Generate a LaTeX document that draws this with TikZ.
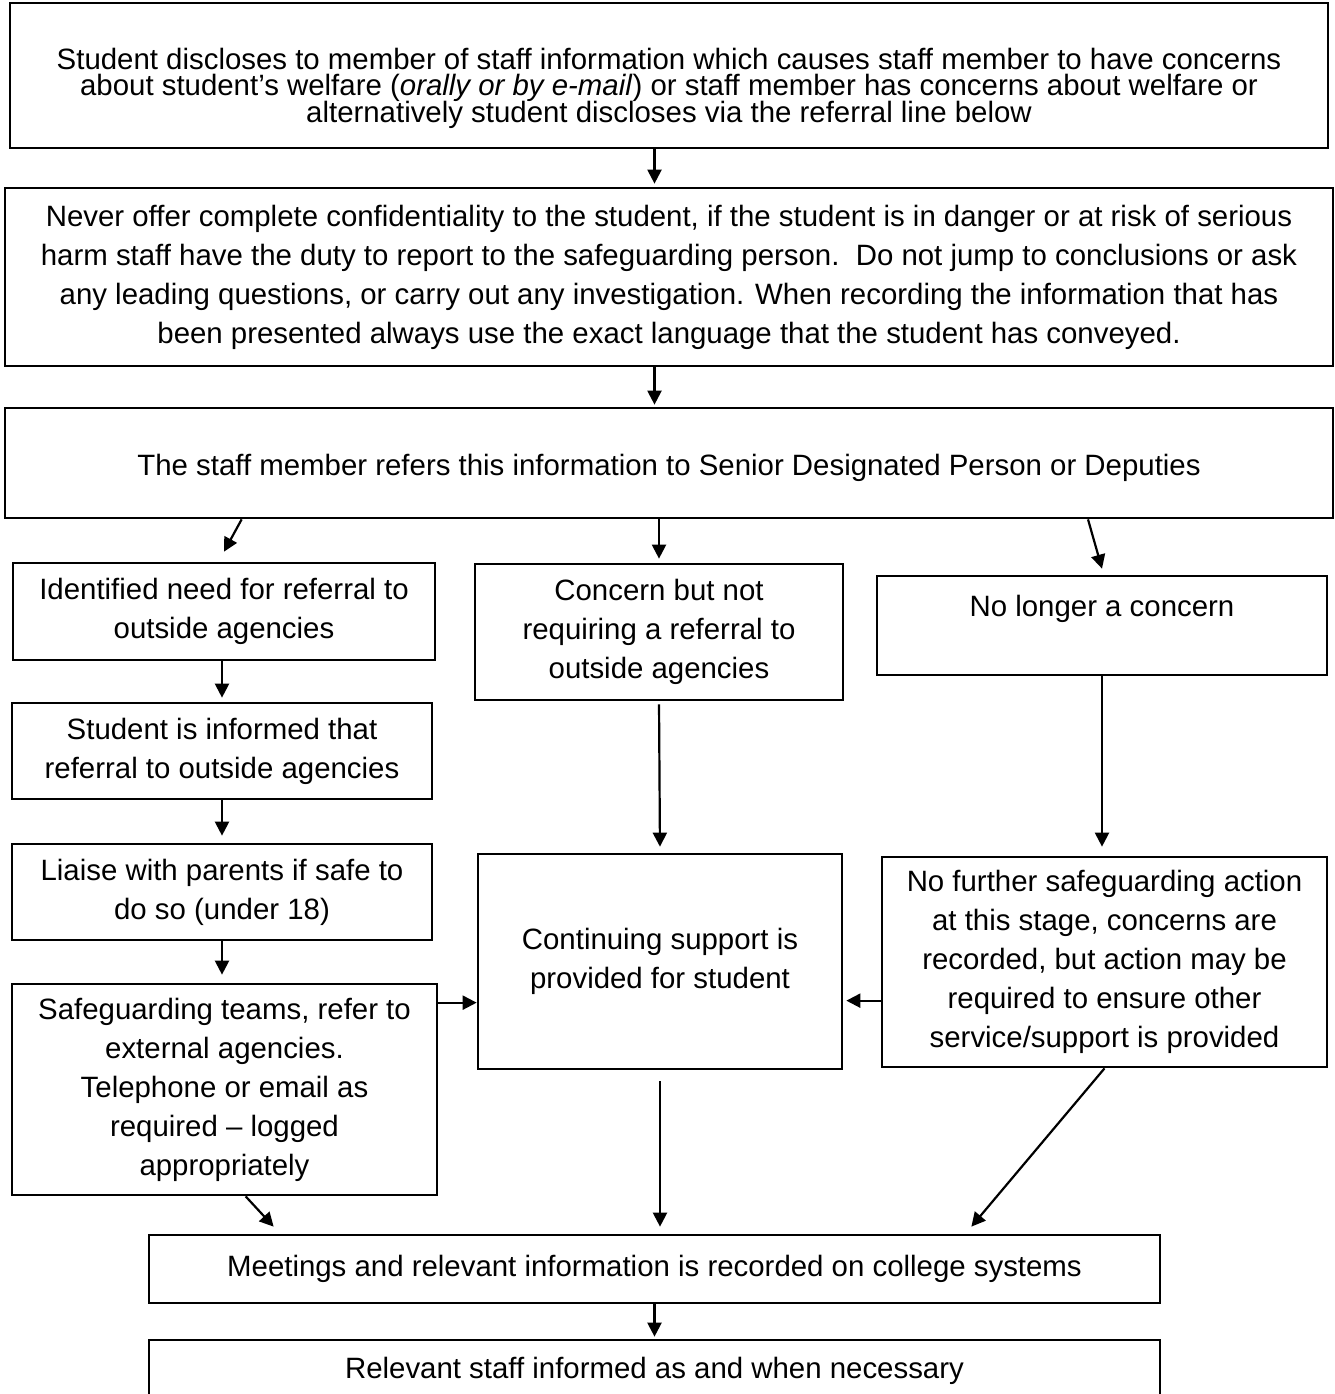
\documentclass[tikz,border=0pt]{standalone}
\usepackage{fontspec}
\setmainfont{Liberation Sans}
\usetikzlibrary{arrows.meta}
\usetikzlibrary{positioning}
\lineskiplimit=-100pt

\begin{document}
\begin{tikzpicture}[x=1pt,y=-1pt]
	\tikzset{box/.style = {shape=rectangle, draw, line width=2.7pt,
			align=center, inner sep=0pt,
			font=\fontsize{29.4}{39}\selectfont}}
	\tikzset{edge/.style = {-{Triangle[length=14pt,width=14pt]}, line width=2.2pt}}

	\clip (0,0) rectangle (1335,1394);

	% boxes
	\node[box, minimum width=1318, minimum height=145,
		font=\fontsize{29.4}{26.5}\selectfont] (top) at (669,75.5)
		{\rule{0pt}{20pt}\\
		Student discloses to member of staff information which causes staff member to have concerns\\
		about student’s welfare (\textit{orally or by e-mail}) or staff member has concerns about welfare or\\
		alternatively student discloses via the referral line below};
	\node[box, minimum width=1328, minimum height=178] (conf) at (669,277)
		{Never offer complete confidentiality to the student, if the student is in danger or at risk of serious\\
		harm staff have the duty to report to the safeguarding person.\ \ Do not jump to conclusions or ask\\
		any leading questions, or carry out any investigation. When recording the information that has\\
		been presented always use the exact language that the student has conveyed.};
	\node[box, minimum width=1328, minimum height=110,
		text height=31pt, text depth=6pt] (refer) at (669,463)
		{The staff member refers this information to Senior Designated Person or Deputies};

	\node[box, minimum width=422, minimum height=97] (ident) at (224,611.5)
		{Identified need for referral to\\outside agencies};
	\node[box, minimum width=368, minimum height=136] (concern) at (659,632)
		{Concern but not\\requiring a referral to\\outside agencies};
	\node[box, minimum width=450, minimum height=99] (nolonger) at (1102,625.5)
		{No longer a concern\\\mbox{}};

	\node[box, minimum width=420, minimum height=96] (inform) at (222,751)
		{Student is informed that\\referral to outside agencies};
	\node[box, minimum width=420, minimum height=96] (liaise) at (222,892)
		{Liaise with parents if safe to\\do so (under 18)};
	\node[box, minimum width=425, minimum height=211] (teams) at (224.5,1089.5)
		{Safeguarding teams, refer to\\external agencies.\\Telephone or email as\\required – logged\\appropriately};
	\node[box, minimum width=364, minimum height=215] (support) at (660,961.5)
		{Continuing support is\\provided for student};
	\node[box, minimum width=445, minimum height=210] (nofurther) at (1104.5,962)
		{No further safeguarding action\\at this stage, concerns are\\recorded, but action may be\\required to ensure other\\service/support is provided};

	\node[box, minimum width=1011, minimum height=68] (meet) at (654.5,1269)
		{Meetings and relevant information is recorded on college systems};
	\node[box, minimum width=1011, minimum height=62] (staff) at (654.5,1371)
		{Relevant staff informed as and when necessary};

	% edges
	\draw[edge, shorten >=3pt] (top.south -| meet.north) to (conf.north -| meet.north);
	\draw[edge, shorten >=2pt] (conf.south -| meet.north) to (refer.north -| meet.north);

	\draw[edge] ([xshift=238pt]refer.south west) to ([yshift=10pt]ident.north);
	\draw[edge, shorten >=4pt] (concern.north |- refer.south) to (concern.north);
	\draw[edge] ([xshift=419pt]refer.south) to ([yshift=6pt]nolonger.north);

	\draw[edge, shorten >=4pt] (inform.north |- ident.south) to (inform.north);
	\draw[edge, shorten >=7pt] (inform.south) to (liaise.north);
	\draw[edge, shorten >=8pt] (liaise.south) to (teams.north -| liaise.south);

	\draw[edge, shorten <=3pt, shorten >=6pt] (concern.south) to (support.north);
	\draw[edge, shorten >=9pt] (nolonger.south) to (nofurther.north -| nolonger.south);

	\draw[edge] ([yshift=-20pt]teams.north east) to ([yshift=-150pt]support.north west);
	\draw[edge, shorten >=3pt] ([yshift=-145pt]nofurther.north west) to ([yshift=-148pt]support.north east);

	\draw[edge] ([xshift=235pt]teams.south west) to ([xshift=126pt,yshift=7pt]meet.north west);
	\draw[edge, shorten <=11pt, shorten >=7pt] (support.south) to (support.south |- meet.north);
	\draw[edge] (nofurther.south) to ([xshift=-190pt,yshift=7pt]meet.north east);

	\draw[edge, shorten >=2pt] (meet.south) to (staff.north);
\end{tikzpicture}
\end{document}
